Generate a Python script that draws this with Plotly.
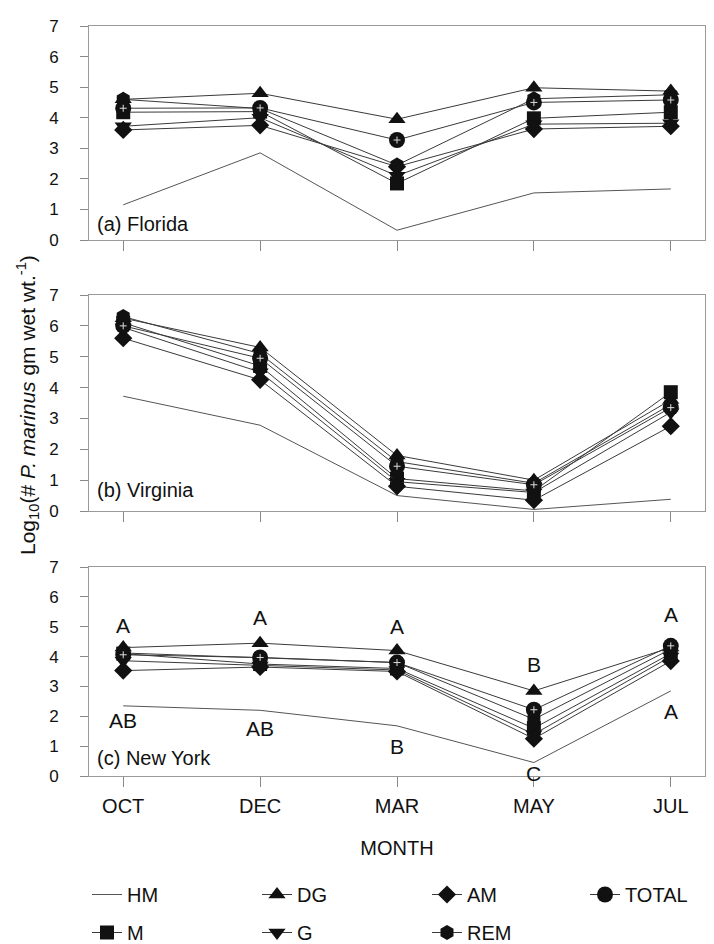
import plotly.graph_objects as go

months = ["OCT", "DEC", "MAR", "MAY", "JUL"]

# (a) Florida
fl_hm = [1.15, 2.85, 0.32, 1.54, 1.67]
fl_m = [4.18, 4.2, 1.85, 3.98, 4.18]
fl_dg = [4.6, 4.8, 3.95, 4.98, 4.87]
fl_g = [3.72, 4.0, 2.1, 3.79, 3.82]
fl_am = [3.6, 3.75, 2.4, 3.63, 3.72]
fl_rem = [4.6, 4.3, 2.45, 4.62, 4.75]
fl_total = [4.31, 4.32, 3.27, 4.5, 4.58]

# (b) Virginia
va_hm = [3.72, 2.78, 0.5, 0.05, 0.38]
va_m = [6.1, 4.7, 1.05, 0.65, 3.85]
va_dg = [6.25, 5.3, 1.8, 1.0, 3.6]
va_g = [5.95, 4.5, 0.95, 0.6, 3.2]
va_am = [5.6, 4.25, 0.8, 0.35, 2.75]
va_rem = [6.3, 5.1, 1.6, 0.9, 3.45]
va_total = [6.0, 4.95, 1.45, 0.85, 3.35]

# (c) New York
ny_hm = [2.35, 2.2, 1.68, 0.45, 2.85]
ny_m = [4.1, 3.75, 3.6, 1.6, 4.1]
ny_dg = [4.3, 4.45, 4.2, 2.85, 4.3]
ny_g = [3.86, 3.7, 3.55, 1.4, 4.0]
ny_am = [3.53, 3.65, 3.5, 1.25, 3.85]
ny_rem = [4.12, 3.95, 3.8, 1.9, 4.25]
ny_total = [4.06, 3.97, 3.8, 2.22, 4.36]

ny_upper_letters = ["A", "A", "A", "B", "A"]
ny_upper_y = [5.05, 5.3, 5.0, 3.72, 5.4]
ny_lower_letters = ["AB", "AB", "B", "C", "A"]
ny_lower_y = [1.85, 1.6, 1.0, 0.1, 2.15]

panel_labels = ["(a) Florida", "(b) Virginia", "(c) New York"]
panel_label_y = [0.52, 0.68, 0.6]

series_names = ["HM", "M", "DG", "G", "AM", "REM", "TOTAL"]
symbols = [None, "square", "triangle-up", "triangle-down", "diamond", "hexagon", "circle"]
sizes = [0, 14, 15, 15, 14, 15, 16]
# legend column for each series (HM/M, DG/G, AM/REM, TOTAL)
legend_of = ["legend", "legend", "legend2", "legend2", "legend3", "legend3", "legend4"]

panels = [
    [fl_hm, fl_m, fl_dg, fl_g, fl_am, fl_rem, fl_total],
    [va_hm, va_m, va_dg, va_g, va_am, va_rem, va_total],
    [ny_hm, ny_m, ny_dg, ny_g, ny_am, ny_rem, ny_total],
]

W, H = 714, 944
FONT = "Liberation Sans, Arial, Helvetica, sans-serif"

fig = go.Figure()
for p, data in enumerate(panels):
    xa = "x" if p == 0 else f"x{p+1}"
    ya = "y" if p == 0 else f"y{p+1}"
    for i, (name, vals) in enumerate(zip(series_names, data)):
        if symbols[i] is None:
            fig.add_trace(go.Scatter(
                x=months, y=vals, mode="lines", name=name, legendgroup=name,
                line=dict(color="#555555", width=1),
                xaxis=xa, yaxis=ya, showlegend=(p == 0), legend=legend_of[i],
                cliponaxis=False, hoverinfo="skip"))
        else:
            fig.add_trace(go.Scatter(
                x=months, y=vals, mode="lines+markers", name=name, legendgroup=name,
                line=dict(color="#3a3a3a", width=1),
                marker=dict(symbol=symbols[i], size=sizes[i], color="#111111",
                            line=dict(width=0)),
                xaxis=xa, yaxis=ya, showlegend=(p == 0), legend=legend_of[i],
                cliponaxis=False))
    # small light cross inside TOTAL circles
    fig.add_trace(go.Scatter(
        x=months, y=data[6], mode="markers",
        marker=dict(symbol="cross-thin", size=5, color="#dddddd",
                    line=dict(color="#dddddd", width=1)),
        xaxis=xa, yaxis=ya, showlegend=False, cliponaxis=False, hoverinfo="skip"))

def py(px):
    return 1 - px / H

x_dom = [81 / W, 697 / W]
y_doms = [[py(232), py(18)], [py(503), py(287)], [py(768), py(559)]]

axis_line = "#9a9a9a"
layout = dict(
    width=W, height=H,
    margin=dict(l=0, r=0, t=0, b=0),
    paper_bgcolor="white", plot_bgcolor="white",
    font=dict(family=FONT, color="#111111", size=18),
)
for p in range(3):
    xk = "xaxis" if p == 0 else f"xaxis{p+1}"
    yk = "yaxis" if p == 0 else f"yaxis{p+1}"
    ya = "y" if p == 0 else f"y{p+1}"
    xa = "x" if p == 0 else f"x{p+1}"
    layout[xk] = dict(
        domain=x_dom, anchor=ya, type="category", categoryorder="array",
        categoryarray=months, range=[-0.25, 4.25],
        showgrid=False, zeroline=False, showline=True, linecolor=axis_line,
        mirror=True, ticks="outside", ticklen=10, tickcolor="#888888",
        showticklabels=(p == 2), tickfont=dict(size=20), ticklabelstandoff=2,
        automargin=False,
    )
    layout[yk] = dict(
        domain=y_doms[p], anchor=xa, range=[0, 7], dtick=1, tick0=0,
        showgrid=False, zeroline=False, showline=True, linecolor=axis_line,
        mirror=True, ticks="outside", ticklen=8, tickcolor="#888888",
        tickfont=dict(size=17), ticklabelstandoff=18, automargin=False,
    )
layout["xaxis3"]["title"] = dict(text="MONTH", font=dict(size=20), standoff=24)

legend_x = [79, 249, 419, 577]
for k, lx in zip(["legend", "legend2", "legend3", "legend4"], legend_x):
    layout[k] = dict(
        orientation="v", x=lx / W, xanchor="left", y=py(867), yanchor="top",
        font=dict(size=20), bgcolor="rgba(0,0,0,0)", itemsizing="trace",
        tracegroupgap=9, borderwidth=0,
    )

annotations = []
for p in range(3):
    ya = "y" if p == 0 else f"y{p+1}"
    xa = "x" if p == 0 else f"x{p+1}"
    annotations.append(dict(
        text=panel_labels[p], xref=f"{xa} domain", yref=ya, x=0.01,
        y=panel_label_y[p], xanchor="left", yanchor="middle", showarrow=False,
        font=dict(size=20)))
for m, t, yv in zip(months, ny_upper_letters, ny_upper_y):
    annotations.append(dict(text=t, xref="x3", yref="y3", x=m, y=yv,
                            showarrow=False, font=dict(size=21)))
for m, t, yv in zip(months, ny_lower_letters, ny_lower_y):
    annotations.append(dict(text=t, xref="x3", yref="y3", x=m, y=yv,
                            showarrow=False, font=dict(size=21)))
annotations.append(dict(
    text="Log<sub>10</sub>(# <i>P. marinus</i> gm wet wt.<sup>-1</sup>)",
    xref="paper", yref="paper", x=19 / W, y=py(397), textangle=-90,
    showarrow=False, font=dict(size=21), xanchor="center", yanchor="middle"))
layout["annotations"] = annotations

fig.update_layout(**layout)
fig.write_html("out.html")
